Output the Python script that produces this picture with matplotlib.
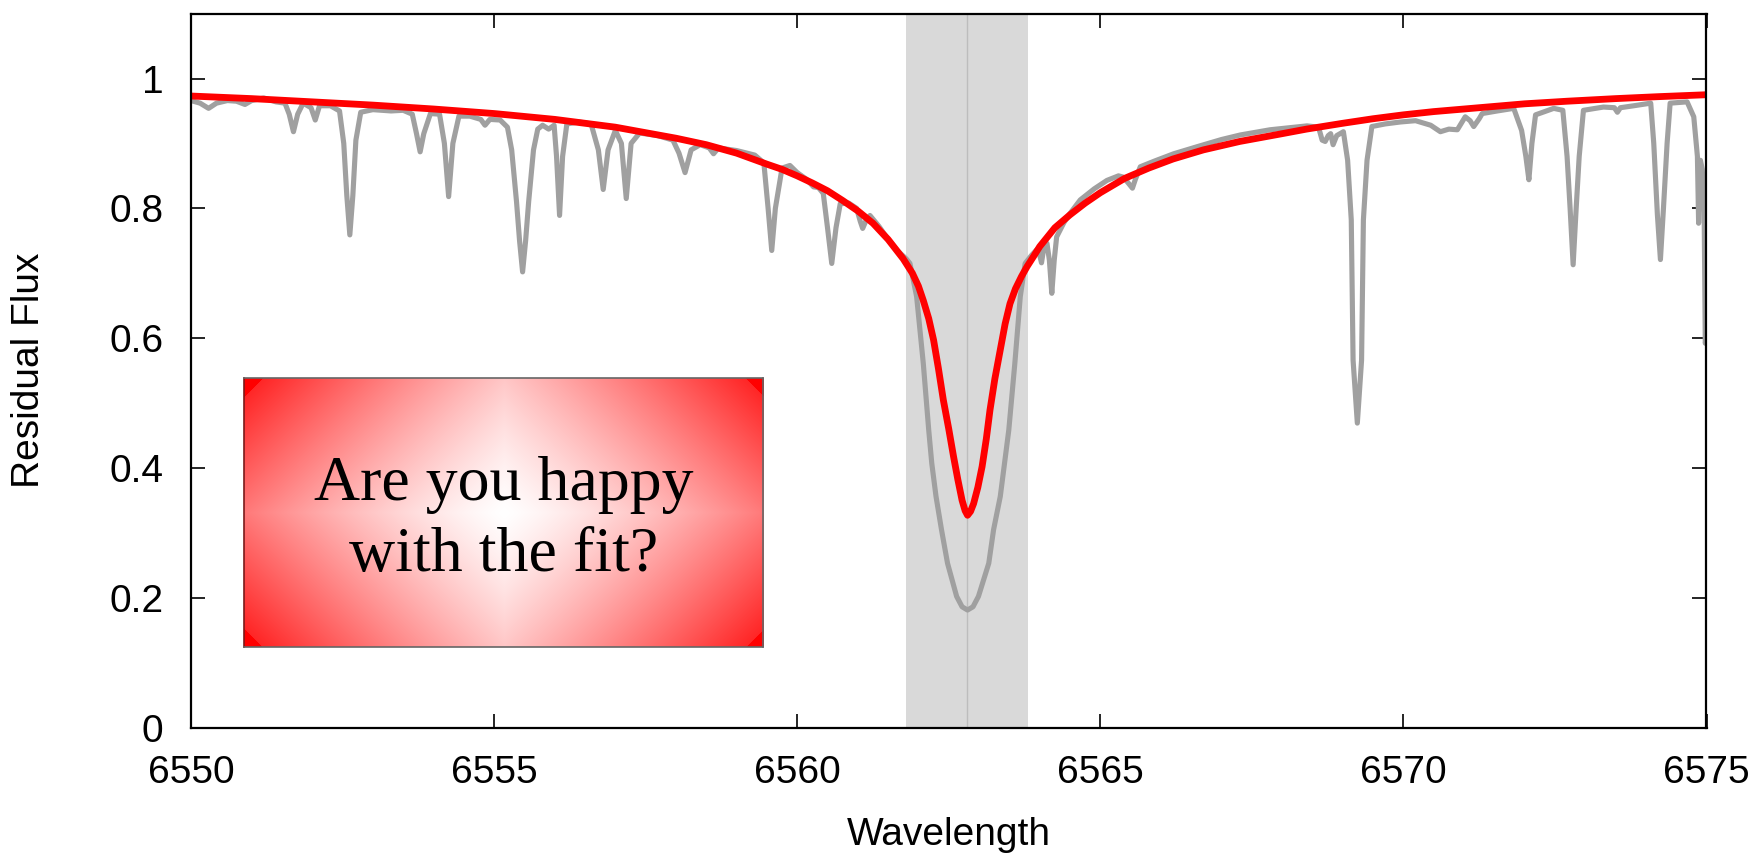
import numpy as np
import matplotlib
matplotlib.use("Agg")
import matplotlib.pyplot as plt
from matplotlib.ticker import FuncFormatter

# Observed spectrum (wavelength in Angstrom, residual flux)
obs_wave = [
    6550.00, 6550.15, 6550.29, 6550.42, 6550.60, 6550.75, 6550.89, 6551.00, 6551.20, 6551.40,
    6551.55, 6551.62, 6551.69, 6551.76, 6551.85, 6551.98, 6552.05, 6552.12, 6552.30, 6552.45,
    6552.52, 6552.57, 6552.62, 6552.67, 6552.72, 6552.80, 6553.00, 6553.30, 6553.50, 6553.65,
    6553.72, 6553.78, 6553.84, 6553.95, 6554.10, 6554.18, 6554.25, 6554.32, 6554.42, 6554.60,
    6554.78, 6554.85, 6554.93, 6555.10, 6555.22, 6555.29, 6555.37, 6555.42, 6555.47, 6555.52,
    6555.57, 6555.65, 6555.72, 6555.80, 6555.90, 6555.99, 6556.03, 6556.08, 6556.13, 6556.20,
    6556.40, 6556.60, 6556.72, 6556.80, 6556.88, 6557.00, 6557.10, 6557.18, 6557.26, 6557.40,
    6557.70, 6557.95, 6558.05, 6558.15, 6558.25, 6558.40, 6558.55, 6558.62, 6558.70, 6559.00,
    6559.30, 6559.45, 6559.52, 6559.58, 6559.64, 6559.75, 6559.88, 6560.00, 6560.15, 6560.27,
    6560.35, 6560.43, 6560.50, 6560.57, 6560.64, 6560.71, 6560.85, 6560.98, 6561.04, 6561.08,
    6561.13, 6561.20, 6561.35, 6561.50, 6561.65, 6561.80,
    6561.86, 6561.97, 6562.08, 6562.17, 6562.22, 6562.29, 6562.38, 6562.48, 6562.63, 6562.72,
    6562.81, 6562.90, 6562.99, 6563.16, 6563.24, 6563.35, 6563.42, 6563.49, 6563.59, 6563.68,
    6563.76, 6563.87, 6563.95, 6564.00,
    6564.03, 6564.07, 6564.12, 6564.16, 6564.20, 6564.24, 6564.28, 6564.40, 6564.50, 6564.67,
    6564.90, 6565.11, 6565.30, 6565.38, 6565.47, 6565.53, 6565.58, 6565.66, 6565.90, 6566.21,
    6566.60, 6567.00, 6567.31, 6567.80, 6568.41, 6568.60, 6568.66, 6568.71, 6568.76, 6568.80,
    6568.84, 6568.90, 6569.01, 6569.08, 6569.14, 6569.17, 6569.24, 6569.31, 6569.34, 6569.40,
    6569.48, 6569.70, 6569.95, 6570.20, 6570.45, 6570.61, 6570.75, 6570.89, 6571.02, 6571.10,
    6571.16, 6571.25, 6571.30, 6571.55, 6571.82, 6571.95, 6572.02, 6572.07, 6572.12, 6572.18,
    6572.48, 6572.63, 6572.70, 6572.75, 6572.80, 6572.85, 6572.90, 6572.97, 6573.30, 6573.48,
    6573.53, 6573.58, 6573.80, 6574.08, 6574.13, 6574.19, 6574.24, 6574.29, 6574.35, 6574.40,
    6574.68, 6574.79, 6574.85, 6574.87, 6574.90, 6574.93, 6574.96, 6574.98, 6575.00,
]
obs_flux = [
    0.966, 0.962, 0.954, 0.962, 0.966, 0.965, 0.960, 0.966, 0.970, 0.964,
    0.962, 0.945, 0.918, 0.945, 0.962, 0.955, 0.936, 0.958, 0.958, 0.950,
    0.900, 0.820, 0.759, 0.820, 0.905, 0.948, 0.952, 0.950, 0.951, 0.945,
    0.915, 0.887, 0.915, 0.946, 0.945, 0.900, 0.818, 0.900, 0.942, 0.942,
    0.937, 0.928, 0.937, 0.936, 0.925, 0.890, 0.810, 0.750, 0.702, 0.750,
    0.810, 0.890, 0.922, 0.928, 0.922, 0.928, 0.880, 0.789, 0.880, 0.930,
    0.933, 0.930, 0.890, 0.829, 0.890, 0.920, 0.900, 0.815, 0.900, 0.916,
    0.912, 0.905, 0.885, 0.855, 0.890, 0.898, 0.893, 0.884, 0.893, 0.889,
    0.882, 0.870, 0.800, 0.735, 0.800, 0.862, 0.866, 0.855, 0.845, 0.833,
    0.832, 0.823, 0.770, 0.715, 0.770, 0.807, 0.808, 0.800, 0.780, 0.769,
    0.780, 0.789, 0.772, 0.752, 0.735, 0.722,
    0.715, 0.664, 0.561, 0.458, 0.407, 0.356, 0.305, 0.253, 0.202, 0.186,
    0.181, 0.186, 0.202, 0.253, 0.305, 0.356, 0.407, 0.458, 0.561, 0.664,
    0.715, 0.728, 0.736, 0.728,
    0.716, 0.740, 0.746, 0.720, 0.669, 0.720, 0.756, 0.778, 0.792, 0.813,
    0.830, 0.843, 0.850, 0.848, 0.838, 0.831, 0.845, 0.864, 0.873, 0.884,
    0.895, 0.906, 0.913, 0.921, 0.927, 0.925, 0.905, 0.903, 0.912, 0.915,
    0.898, 0.912, 0.918, 0.874, 0.782, 0.566, 0.469, 0.566, 0.782, 0.874,
    0.926, 0.930, 0.933, 0.935, 0.928, 0.918, 0.922, 0.921, 0.941, 0.935,
    0.926, 0.938, 0.946, 0.950, 0.954, 0.920, 0.880, 0.844, 0.900, 0.944,
    0.954, 0.951, 0.880, 0.800, 0.713, 0.800, 0.880, 0.951, 0.956, 0.955,
    0.948, 0.955, 0.958, 0.962, 0.900, 0.790, 0.721, 0.800, 0.900, 0.962,
    0.964, 0.941, 0.880, 0.777, 0.874, 0.860, 0.808, 0.592, 0.600,
]

# Model profile fitted to the Balmer line
fit_wave = [
    6550.0, 6551.0, 6552.0, 6553.0, 6554.0, 6555.0, 6556.0, 6557.0, 6558.0, 6558.5,
    6559.0, 6559.5, 6559.75, 6560.0, 6560.25, 6560.5, 6560.75, 6561.0, 6561.25, 6561.5,
    6561.75, 6561.9, 6562.0, 6562.08, 6562.17, 6562.25, 6562.33, 6562.41, 6562.5, 6562.58,
    6562.65, 6562.72, 6562.77, 6562.81, 6562.86, 6562.91, 6562.98, 6563.05, 6563.12, 6563.18,
    6563.26, 6563.35, 6563.43, 6563.51, 6563.6, 6563.7, 6563.79, 6563.9, 6564.0, 6564.25,
    6564.5, 6564.75, 6565.0, 6565.4, 6565.8, 6566.2, 6566.7, 6567.3, 6568.0, 6568.4,
    6569.0, 6569.5, 6570.0, 6570.5, 6571.0, 6571.5, 6572.0, 6572.7, 6573.5, 6574.2,
    6575.0,
]
fit_flux = [
    0.973, 0.969, 0.964, 0.959, 0.953, 0.946, 0.937, 0.925, 0.908, 0.898,
    0.885, 0.868, 0.860, 0.850, 0.839, 0.827, 0.812, 0.796, 0.777, 0.752,
    0.722, 0.700, 0.680, 0.658, 0.630, 0.597, 0.553, 0.505, 0.460, 0.417,
    0.382, 0.350, 0.334, 0.327, 0.333, 0.345, 0.370, 0.402, 0.445, 0.489,
    0.537, 0.582, 0.622, 0.653, 0.676, 0.695, 0.710, 0.726, 0.741, 0.770,
    0.790, 0.808, 0.824, 0.846, 0.862, 0.876, 0.890, 0.903, 0.915, 0.922,
    0.931, 0.938, 0.944, 0.949, 0.953, 0.957, 0.961, 0.965, 0.969, 0.972,
    0.975,
]

# Line centre and the fitting window around it
line_center = 6562.8
window = (6561.8, 6563.8)

x_ticks = [6550, 6555, 6560, 6565, 6570, 6575]
y_ticks = [0, 0.2, 0.4, 0.6, 0.8, 1.0]

plt.rcParams["font.family"] = ["Liberation Sans", "DejaVu Sans"]

W, H = 1758, 861
fig = plt.figure(figsize=(W / 100, H / 100), dpi=100)
ax = fig.add_axes([191 / W, 1 - 727.5 / H, 1515.5 / W, 713.9 / H])

ax.axvspan(window[0], window[1], color="#d9d9d9", lw=0, zorder=1)
ax.axvline(line_center, color="#bdbdbd", lw=1.0, zorder=1.5)
ax.plot(obs_wave, obs_flux, color="#a0a0a0", lw=3.7, zorder=2)
ax.plot(fit_wave, fit_flux, color="#ff0000", lw=4.9, zorder=3)

ax.set_xlim(6550, 6575)
ax.set_ylim(0, 1.1)
ax.set_xticks(x_ticks)
ax.set_yticks(y_ticks)
ax.yaxis.set_major_formatter(FuncFormatter(lambda v, p: f"{v:g}"))
ax.tick_params(direction="in", length=10, width=1.2, labelsize=28,
               top=True, right=True, pad=20, colors="black")
for s in ax.spines.values():
    s.set_linewidth(1.6)
    s.set_zorder(5)

ax.set_xlabel("Wavelength", fontsize=28)
ax.xaxis.label.set_va("center")
ax.xaxis.set_label_coords(0.5, (727.5 - 835) / 713.9)
ax.set_ylabel("Residual Flux", fontsize=28)
ax.yaxis.label.set_va("center")
ax.yaxis.set_label_coords((29 - 191) / 1515.5, 0.5)

# Question box with a diamond-shaped white-to-red gradient
bx0, bx1, by0, by1 = 244.4, 763.5, 377.8, 647.0
bw, bh = bx1 - bx0, by1 - by0
bax = fig.add_axes([bx0 / W, 1 - by1 / H, bw / W, bh / H])
gx = np.abs(np.arange(int(bw)) - bw / 2)
gy = np.abs(np.arange(int(bh)) - bh / 2)
t = (gx[None, :] + gy[:, None]) / 375.0
shade = np.where(t >= 1, 1.0, 0.85 * np.clip(t, 0, 1) ** 1.3)
img = np.dstack([np.ones_like(shade), 1 - shade, 1 - shade])
bax.imshow(img, extent=(0, 1, 0, 1), aspect="auto", interpolation="bilinear")
bax.set_xlim(0, 1)
bax.set_ylim(0, 1)
bax.set_xticks([])
bax.set_yticks([])
for name, s in bax.spines.items():
    s.set_linewidth(1.2)
    s.set_edgecolor("#7a1a1a" if name == "left" else "#666666")
bax.text(0.5, 0.47, "Are you happy\nwith the fit?", ha="center", va="center",
         fontsize=46, family=["Liberation Serif", "DejaVu Serif"],
         linespacing=1.3, transform=bax.transAxes)

fig.savefig("out.png", dpi=100)
